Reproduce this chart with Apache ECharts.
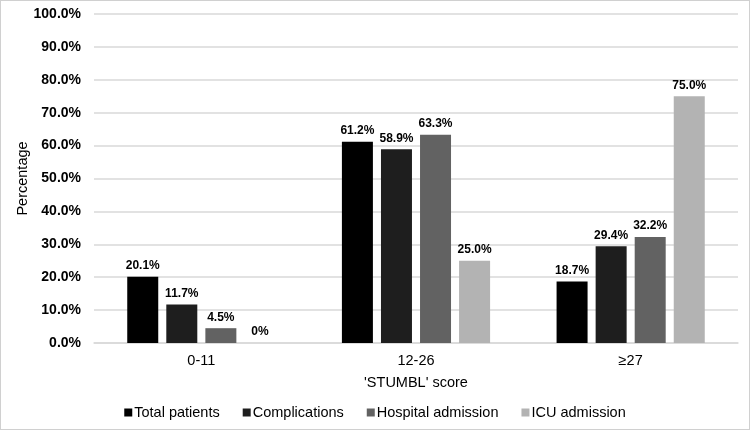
<!DOCTYPE html>
<html><head><meta charset="utf-8">
<script src="https://cdn.jsdelivr.net/npm/echarts@6/dist/echarts.min.js"></script>
<style>html,body{margin:0;padding:0;background:#fff}#c{width:750px;height:430px;box-sizing:border-box;border:1px solid #d0d0d0}</style>
</head><body><div id="c"></div>
<script>
var categories = ["0-11", "12-26", "\u226527"];
var seriesNames = ["Total patients", "Complications", "Hospital admission", "ICU admission"];
var totalPatients = [20.1, 61.2, 18.7];
var complications = [11.7, 58.9, 29.4];
var hospitalAdmission = [4.5, 63.3, 32.2];
var icuAdmission = [0, 25.0, 75.0];
var colors = ["#000000", "#1e1e1e", "#626262", "#b3b3b3"];
var data = [totalPatients, complications, hospitalAdmission, icuAdmission];
var font = "Liberation Sans, Arial, sans-serif";
var chart = echarts.init(document.getElementById('c'), null, {renderer: 'canvas'});
chart.setOption({
  animation: false,
  textStyle: {fontFamily: font},
  grid: {left: 93, right: 11, top: 13, bottom: 86},
  legend: {
    bottom: 4, left: 'center', itemWidth: 8, itemHeight: 8, itemGap: 23,
    icon: 'rect',
    textStyle: {fontFamily: font, fontSize: 14.5, color: '#000', padding: [0, 0, 0, -3]},
    data: seriesNames
  },
  xAxis: {
    type: 'category', data: categories,
    axisLine: {lineStyle: {color: '#d9d9d9', width: 1.5}},
    axisTick: {show: false},
    axisLabel: {fontFamily: font, fontSize: 14.5, color: '#000', margin: 10},
    name: "'STUMBL' score", nameLocation: 'middle', nameGap: 32,
    nameTextStyle: {fontFamily: font, fontSize: 14.5, color: '#000'}
  },
  yAxis: {
    type: 'value', min: 0, max: 100, interval: 10,
    axisLine: {show: false}, axisTick: {show: false},
    splitLine: {lineStyle: {color: '#d9d9d9', width: 1.5}},
    axisLabel: {fontFamily: font, fontSize: 14, fontWeight: 'bold', color: '#000', margin: 13,
      formatter: function (v) { return v.toFixed(1) + '%'; }},
    name: 'Percentage', nameLocation: 'middle', nameGap: 71, nameRotate: 90,
    nameMoveOverlap: false,
    nameTextStyle: {fontFamily: font, fontSize: 14.5, color: '#000', verticalAlign: 'middle'}
  },
  series: seriesNames.map(function (n, i) {
    return {
      name: n, type: 'bar', data: data[i], barWidth: 31, barGap: '26%',
      itemStyle: {color: colors[i]},
      label: {show: true, position: 'top', distance: 5, fontFamily: font, fontSize: 12, fontWeight: 'bold', color: '#000',
        formatter: function (p) { return p.value === 0 ? '0%' : p.value.toFixed(1) + '%'; }}
    };
  })
});
</script></body></html>
